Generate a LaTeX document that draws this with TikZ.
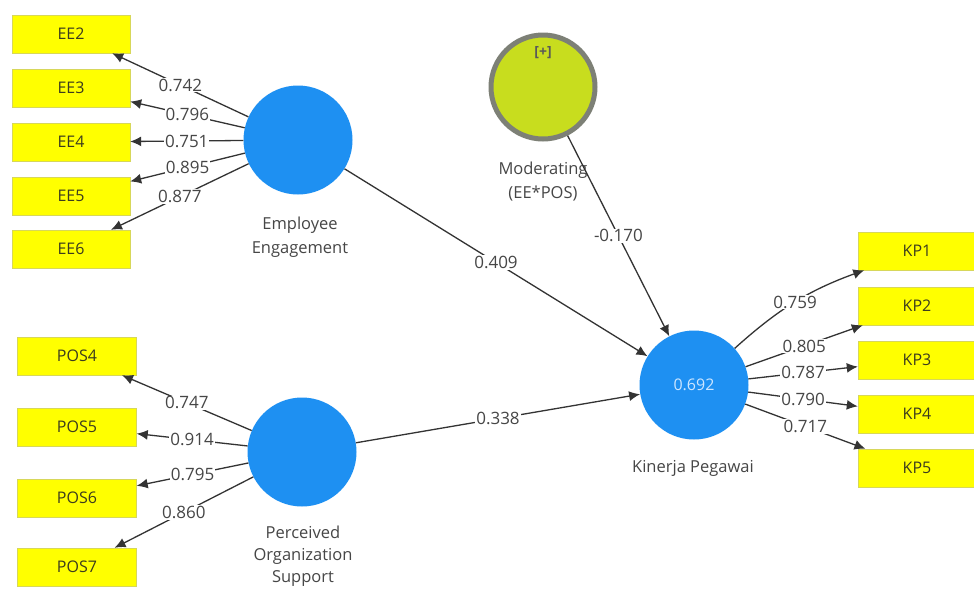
\documentclass[tikz,border=0pt]{standalone}
\usepackage{fontspec}
\setmainfont{Open Sans}
\usetikzlibrary{arrows.meta}
\definecolor{lvblue}{RGB}{30,144,242}
\definecolor{indyellow}{RGB}{255,255,0}
\definecolor{indedge}{RGB}{215,215,90}
\definecolor{indtxt}{RGB}{60,60,30}
\definecolor{modfill}{RGB}{200,221,30}
\definecolor{modedge}{RGB}{125,128,118}
\definecolor{txtgray}{RGB}{70,70,70}
\definecolor{valtxt}{RGB}{205,230,255}

\begin{document}
\begin{tikzpicture}[x=1pt,y=-1pt,
  ind/.style={draw=indedge, fill=indyellow, minimum width=118pt, minimum height=38pt,
              inner sep=0pt, font=\fontsize{16}{18}\selectfont, text=indtxt},
  latent/.style={circle, fill=lvblue, minimum size=109pt, inner sep=0pt},
  modvar/.style={circle, draw=modedge, line width=5pt, fill=modfill, minimum size=104pt, inner sep=0pt},
  caption/.style={align=center, font=\fontsize{16.5}{24}\selectfont, text=txtgray},
  link/.style={draw=black!80, line width=1.3pt, -{Latex[length=11pt,width=10pt]}},
  coef/.style={fill=white, inner sep=1pt, font=\fontsize{17}{19}\selectfont, text=txtgray},
]
\path[use as bounding box, clip] (0,0) rectangle (974,590);
\fill[white] (0,0) rectangle (974,590);

% latent variables
\node[latent] (ee)  at (298,140) {};
\node[latent] (pos) at (302,452) {};
\node[modvar] (mod) at (543,87) {};
\node[latent, font=\fontsize{16}{18}\selectfont, text=valtxt] (kp) at (694,385) {0.692};

\node[font=\fontsize{14}{16}\selectfont\bfseries, text=black!65] (plus) at (543,53) {[+]};

% captions
\node[caption] (eecap)  at (300,237) {Employee\\Engagement};
\node[caption, font=\fontsize{16.5}{22}\selectfont] (poscap) at (303,556) {Perceived\\Organization\\Support};
\node[caption] (modcap) at (543,182) {Moderating\\(EE*POS)};
\node[caption] (kpcap)  at (693,468) {Kinerja Pegawai};

% indicators
\node[ind] (ee2) at (71,34)  {EE2};
\node[ind] (ee3) at (71,88)  {EE3};
\node[ind] (ee4) at (71,142) {EE4};
\node[ind] (ee5) at (71,196) {EE5};
\node[ind] (ee6) at (71,249) {EE6};

\node[ind, minimum width=119pt] (pos4) at (77,356) {POS4};
\node[ind, minimum width=119pt] (pos5) at (77,427) {POS5};
\node[ind, minimum width=119pt] (pos6) at (77,498) {POS6};
\node[ind, minimum width=119pt] (pos7) at (77,567) {POS7};

\node[ind] (kp1) at (917,251) {KP1};
\node[ind] (kp2) at (917,306) {KP2};
\node[ind] (kp3) at (917,360) {KP3};
\node[ind] (kp4) at (917,414) {KP4};
\node[ind] (kp5) at (917,468) {KP5};

% outer loadings
\draw[link] (ee) -- node[coef] {0.742} (ee2);
\draw[link] (ee) -- node[coef] {0.796} (ee3);
\draw[link] (ee) -- node[coef] {0.751} (ee4);
\draw[link] (ee) -- node[coef] {0.895} (ee5);
\draw[link] (ee) -- node[coef] {0.877} (ee6);

\draw[link] (pos) -- node[coef] {0.747} (pos4);
\draw[link] (pos) -- node[coef] {0.914} (pos5);
\draw[link] (pos) -- node[coef] {0.795} (pos6);
\draw[link] (pos) -- node[coef] {0.860} (pos7);

\draw[link] (kp) to[out=42,in=200] node[coef] {0.759} (kp1);
\draw[link] (kp) -- node[coef] {0.805} (kp2);
\draw[link] (kp) -- node[coef] {0.787} (kp3);
\draw[link] (kp) -- node[coef] {0.790} (kp4);
\draw[link] (kp) -- node[coef] {0.717} (kp5);

% structural paths
\draw[link] (ee)  -- node[coef] {0.409} (kp);
\draw[link] (pos) -- node[coef] {0.338} (kp);
\draw[link] (mod) -- node[coef] {-0.170} (kp);
\end{tikzpicture}
\end{document}
